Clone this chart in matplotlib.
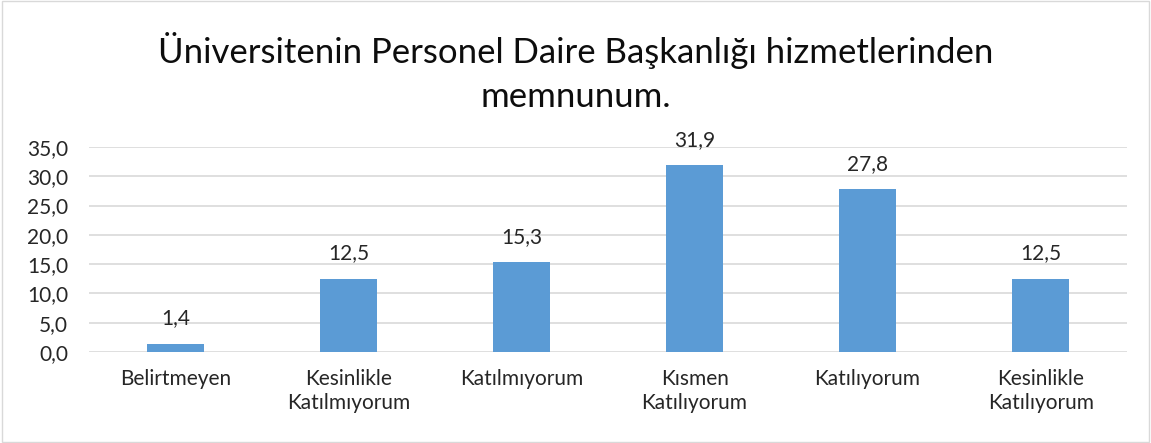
import matplotlib.pyplot as plt
from matplotlib.patches import Rectangle

plt.rcParams['font.family'] = ['Lato', 'DejaVu Sans']

categories = ['Belirtmeyen', 'Kesinlikle\nKatılmıyorum', 'Katılmıyorum',
              'Kısmen\nKatılıyorum', 'Katılıyorum', 'Kesinlikle\nKatılıyorum']
values = [1.4, 12.5, 15.3, 31.9, 27.8, 12.5]
yticks = [0, 5, 10, 15, 20, 25, 30, 35]

fig = plt.figure(figsize=(11.51, 4.43), dpi=100)
ax = fig.add_axes([0.0773, 0.2054, 0.902, 0.4628])

x = range(len(categories))
bars = ax.bar(x, values, width=0.33, color='#5B9BD5', zorder=3)

for b, v in zip(bars, values):
    ax.annotate(f'{v:.1f}'.replace('.', ','), (b.get_x() + b.get_width() / 2, v),
                xytext=(0, 11), textcoords='offset points',
                ha='center', va='bottom', fontsize=15, color='#262626')

ax.set_xlim(-0.5, len(categories) - 0.5)
ax.set_ylim(0, 35)
ax.set_yticks(yticks)
ax.set_yticklabels([f'{t:.1f}'.replace('.', ',') for t in yticks], fontsize=15, color='#262626')
ax.set_xticks(list(x))
ax.set_xticklabels(categories, fontsize=15, color='#262626', linespacing=1.3)
ax.tick_params(axis='both', length=0)
ax.tick_params(axis='x', pad=12)
ax.tick_params(axis='y', pad=15)

ax.grid(axis='y', color='#D9D9D9', linewidth=1.2, zorder=0)
for s in ax.spines.values():
    s.set_visible(False)

fig.text(0.5, 0.837, 'Üniversitenin Personel Daire Başkanlığı hizmetlerinden\nmemnunum.',
         ha='center', va='center', fontsize=25, color='#0d0d0d', linespacing=1.45)

fig.patches.append(Rectangle((0.002, 0.003), 0.996, 0.994, transform=fig.transFigure,
                             fill=False, edgecolor='#D9D9D9', linewidth=1))

fig.savefig('out.png', dpi=100)
